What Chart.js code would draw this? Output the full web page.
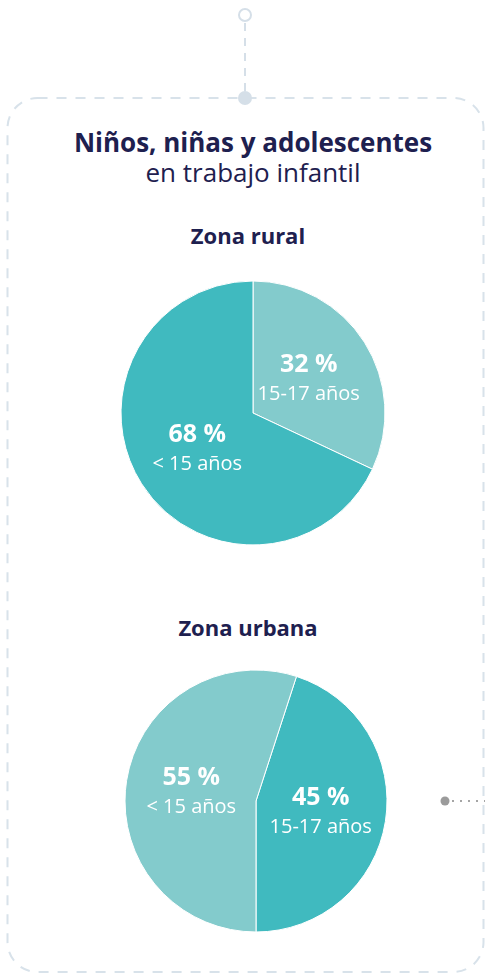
<!DOCTYPE html>
<html>
<head>
<meta charset="utf-8">
<script src="https://cdn.jsdelivr.net/npm/chart.js@4/dist/chart.umd.min.js"></script>
<style>
  html, body { margin: 0; padding: 0; background: #fff; }
  body { width: 485px; height: 974px; position: relative; overflow: hidden; font-family: "Open Sans", sans-serif; color: #1e204f; }
  .txt { position: absolute; width: 400px; text-align: center; white-space: nowrap; }
  .chart { position: absolute; width: 280px; height: 280px; }
  svg { position: absolute; left: 0; top: 0; }
</style>
</head>
<body>
<svg width="485" height="974">
  <!-- conector superior -->
  <circle cx="245" cy="15" r="6" fill="#fff" stroke="#d5dfe8" stroke-width="2"/>
  <line x1="245" y1="23" x2="245" y2="92" stroke="#d5dfe8" stroke-width="2" stroke-dasharray="8 7"/>
  <!-- caja punteada -->
  <rect x="7.5" y="98" width="476" height="874" rx="30" ry="30" fill="none" stroke="#d8e2ea" stroke-width="2" stroke-dasharray="10 9"/>
  <circle cx="245" cy="98" r="7" fill="#d5dfe8"/>
  <!-- conector derecho -->
  <line x1="452" y1="801" x2="485" y2="801" stroke="#a5a5a5" stroke-width="2" stroke-dasharray="2 6"/>
  <circle cx="445" cy="801" r="4.5" fill="#9b9b9b"/>
</svg>

<div class="txt" style="left:53px; top:129px; font-size:26px; line-height:26px; font-weight:700;">Niños, niñas y adolescentes</div>
<div class="txt" style="left:53px; top:159px; font-size:26px; line-height:26px;">en trabajo infantil</div>
<div class="txt" style="left:48px; top:224px; font-size:22px; line-height:22px; font-weight:700;">Zona rural</div>
<div class="txt" style="left:48px; top:616px; font-size:22px; line-height:22px; font-weight:700;">Zona urbana</div>

<div class="chart" style="left:113px; top:273px;"><canvas id="rural" width="280" height="280"></canvas></div>
<div class="chart" style="left:115.5px; top:661px;"><canvas id="urbana" width="280" height="280"></canvas></div>

<script>
// datos
const ruralLabels = ['15-17 años', '< 15 años'];
const ruralValues = [32, 68];
const urbanLabels = ['15-17 años', '< 15 años'];
const urbanValues = [45, 55];

const TEAL_DARK = '#40babf';
const TEAL_LIGHT = '#83cbcc';

// etiquetas dentro de cada porción
const sliceLabels = {
  id: 'sliceLabels',
  afterDatasetsDraw(chart) {
    const ctx = chart.ctx;
    const meta = chart.getDatasetMeta(0);
    const values = chart.data.datasets[0].data;
    meta.data.forEach((arc, i) => {
      const mid = (arc.startAngle + arc.endAngle) / 2;
      const r = arc.outerRadius * 0.5;
      const x = arc.x + Math.cos(mid) * r;
      const y = arc.y + Math.sin(mid) * r;
      ctx.save();
      ctx.fillStyle = '#fff';
      ctx.textAlign = 'center';
      ctx.textBaseline = 'alphabetic';
      ctx.font = '700 25px "Open Sans"';
      ctx.fillText(values[i] + ' %', x, y - 6);
      ctx.font = '400 20px "Open Sans"';
      ctx.fillText(chart.data.labels[i], x, y + 22);
      ctx.restore();
    });
  }
};

function makePie(id, labels, values, colors, rotation, radius) {
  return new Chart(document.getElementById(id), {
    type: 'pie',
    data: {
      labels: labels,
      datasets: [{
        data: values,
        backgroundColor: colors,
        borderColor: '#fff',
        borderWidth: 1
      }]
    },
    options: {
      responsive: false,
      animation: false,
      rotation: rotation,
      radius: radius,
      layout: { padding: 0 },
      plugins: {
        legend: { display: false },
        tooltip: { enabled: false }
      }
    },
    plugins: [sliceLabels]
  });
}

makePie('rural', ruralLabels, ruralValues, [TEAL_LIGHT, TEAL_DARK], 0, 132);
makePie('urbana', urbanLabels, urbanValues, [TEAL_DARK, TEAL_LIGHT], 18, 131);
</script>
</body>
</html>
